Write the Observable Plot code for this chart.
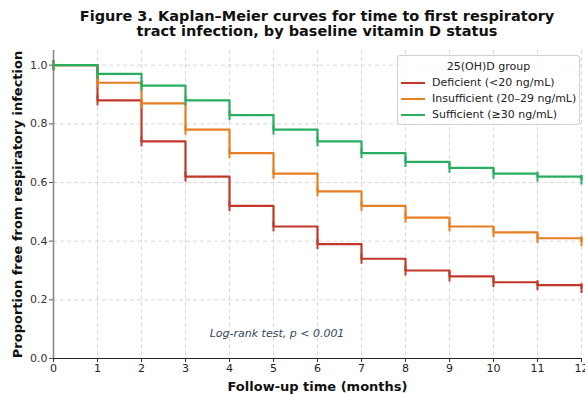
<!DOCTYPE html>
<html>
<head>
<meta charset="utf-8">
<script src="https://cdn.jsdelivr.net/npm/d3@7"></script>
<script src="https://cdn.jsdelivr.net/npm/@observablehq/plot@0.6"></script>
<style>
  html, body { margin: 0; padding: 0; background: #fff; }
  #wrap { position: relative; width: 585px; height: 394px; overflow: hidden; font-family: "DejaVu Sans", sans-serif; }
  #title { position: absolute; left: 53px; top: 9px; width: 528px; text-align: center; font-weight: bold; font-size: 14.5px; line-height: 15px; color: #111; }
  #chart { position: absolute; left: 0; top: 46px; }
  #legend { position: absolute; left: 397px; top: 55px; width: 181px; height: 68px; border: 1px solid #d0d0d0; border-radius: 3px; background: rgba(255,255,255,0.85); font-size: 11px; color: #222; }
  #legend .lt { text-align: center; margin-top: 3px; height: 16px; line-height: 16px; }
  #legend .row { height: 16px; line-height: 16px; position: relative; }
  #legend .sw { position: absolute; left: 3px; top: 7px; width: 24px; height: 0; border-top: 2.2px solid; }
  #legend .tx { position: absolute; left: 34px; top: 0; white-space: nowrap; }
</style>
</head>
<body>
<div id="wrap">
  <div id="title">Figure 3. Kaplan–Meier curves for time to first respiratory<br>tract infection, by baseline vitamin D status</div>
  <div id="chart"></div>
  <div id="legend"></div>
</div>
<script>
const months = [0, 1, 2, 3, 4, 5, 6, 7, 8, 9, 10, 11, 12];
const groups = ["Deficient (<20 ng/mL)", "Insufficient (20–29 ng/mL)", "Sufficient (≥30 ng/mL)"];
const colors = ["#c0392b", "#e67e22", "#27ae60"];
const deficient    = [1.00, 0.88, 0.74, 0.62, 0.52, 0.45, 0.39, 0.34, 0.30, 0.28, 0.26, 0.25, 0.24];
const insufficient = [1.00, 0.94, 0.87, 0.78, 0.70, 0.63, 0.57, 0.52, 0.48, 0.45, 0.43, 0.41, 0.40];
const sufficient   = [1.00, 0.97, 0.93, 0.88, 0.83, 0.78, 0.74, 0.70, 0.67, 0.65, 0.63, 0.62, 0.61];
const xTicks = [0, 1, 2, 3, 4, 5, 6, 7, 8, 9, 10, 11, 12];
const yTicks = [0, 0.2, 0.4, 0.6, 0.8, 1.0];
const legendTitle = "25(OH)D group";
const xLabel = "Follow-up time (months)";
const yLabel = "Proportion free from respiratory infection";
const note = "Log-rank test, p < 0.001";
const notePos = {x: 5.08, y: 0.085};

const series = [deficient, insufficient, sufficient];
const data = [];
groups.forEach((g, i) => months.forEach((m, j) => data.push({group: g, t: m, s: series[i][j]})));

const tickSymbol = {
  draw(context, size) {
    const h = Math.sqrt(size / Math.PI);
    context.moveTo(0, -h);
    context.lineTo(0, h);
  }
};

const chart = Plot.plot({
  width: 585,
  height: 348,
  marginTop: 4,
  marginLeft: 53,
  marginRight: 4,
  marginBottom: 36,
  style: {fontFamily: "DejaVu Sans, sans-serif", fontSize: "11px", background: "transparent", overflow: "visible"},
  x: {domain: [0, 12], ticks: xTicks, tickFormat: d => String(d)},
  y: {domain: [0, 1.05], ticks: yTicks, tickFormat: d => d.toFixed(1)},
  color: {domain: groups, range: colors},
  marks: [
    Plot.gridX(xTicks, {stroke: "#cfcfcf", strokeOpacity: 1, strokeDasharray: "4,3", strokeWidth: 0.8}),
    Plot.gridY(yTicks, {stroke: "#cfcfcf", strokeOpacity: 1, strokeDasharray: "4,3", strokeWidth: 0.8}),
    Plot.axisX(xTicks, {tickSize: 4, tickPadding: 2, stroke: "#333", fill: "#222", label: null}),
    Plot.axisY(yTicks, {tickSize: 4, tickPadding: 2, stroke: "#555", fill: "#333", label: null}),
    Plot.ruleX([0], {stroke: "#8a8a8a", strokeWidth: 1.6}),
    Plot.ruleY([0], {stroke: "#222", strokeWidth: 1.2}),
    Plot.line(data, {x: "t", y: "s", z: "group", stroke: "group", curve: "step-after", strokeWidth: 2.2}),
    Plot.dot(data, {x: "t", y: "s", stroke: "group", symbol: tickSymbol, r: 5, strokeWidth: 2, fill: "none"}),
    Plot.text([note], {x: notePos.x, y: notePos.y, fontStyle: "italic", fill: "#34495e", fontSize: 11}),
    Plot.text([yLabel], {frameAnchor: "left", dx: -36, rotate: -90, textAnchor: "middle", lineAnchor: "middle", fontWeight: "bold", fontSize: 13, fill: "#111"}),
    Plot.text([xLabel], {frameAnchor: "bottom", dy: 28, textAnchor: "middle", lineAnchor: "middle", fontWeight: "bold", fontSize: 13, fill: "#111"})
  ]
});
document.getElementById("chart").appendChild(chart);

const leg = document.getElementById("legend");
const lt = document.createElement("div");
lt.className = "lt";
lt.textContent = legendTitle;
leg.appendChild(lt);
groups.forEach((g, i) => {
  const row = document.createElement("div");
  row.className = "row";
  const sw = document.createElement("div");
  sw.className = "sw";
  sw.style.borderTopColor = colors[i];
  const tx = document.createElement("div");
  tx.className = "tx";
  tx.textContent = g;
  row.appendChild(sw);
  row.appendChild(tx);
  leg.appendChild(row);
});
</script>
</body>
</html>
